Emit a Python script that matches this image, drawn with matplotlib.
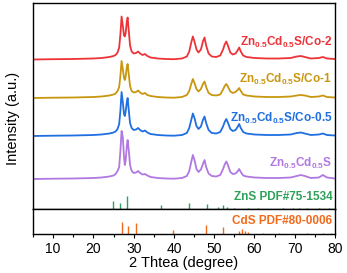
import matplotlib.pyplot as plt
import numpy as np

plt.rcParams['font.family'] = ['Liberation Sans', 'DejaVu Sans']
plt.rcParams['mathtext.fontset'] = 'custom'
plt.rcParams['mathtext.rm'] = 'Liberation Sans:bold'
plt.rcParams['mathtext.bf'] = 'Liberation Sans:bold'

# 2theta sampling points
tt = [5, 10, 15, 20, 22, 24, 25, 25.5, 26, 26.4, 26.7, 27.0, 27.3, 27.6, 27.8, 28.0, 28.3, 28.5,
      28.8, 29.1, 29.5, 30.0, 30.6, 31.1, 31.6, 32.2, 32.8, 33.4, 34.2, 36, 38, 40, 42, 43.2, 43.8,
      44.3, 44.7, 45.1, 45.6, 46.1, 46.7, 47.2, 47.6, 48.0, 48.6, 49.4, 50.5, 51.5, 52.2, 52.6,
      53.0, 53.4, 54.0, 54.6, 55.3, 55.8, 56.2, 56.6, 57.2, 58, 60, 63, 66, 69, 70.5, 71.5, 72.5,
      74, 76, 77, 78, 80]

co2 = [0, 0.3, 0.5, 1, 1.5, 2.5, 3.5, 4.5, 7, 12, 25, 43, 34, 24, 23, 26, 38, 42,
       28, 14, 8, 6, 6.5, 8, 6, 4.5, 5.5, 3.5, 2, 1, 0.5, 0.3, 1, 3, 8,
       17, 23, 18, 10, 7, 10, 18, 22, 14, 6, 3, 2.5, 4, 10, 15,
       18, 14, 7, 5, 6, 9, 12, 8, 4, 2.5, 1.5, 1, 1, 1.5, 3, 3.5, 2.5,
       1, 1.5, 2.5, 1, 0.5]
co1 = [0, 0.3, 0.5, 1, 1.5, 2.5, 3.5, 4.5, 7, 11, 22, 37, 29, 20, 18, 21, 31, 34,
       23, 12, 7, 5.5, 6, 7.5, 5.5, 4, 5, 3, 2, 1, 0.5, 0.3, 1, 3, 7,
       14, 19, 15, 9, 6.5, 9, 14, 16.5, 11, 5, 3, 2.5, 3.5, 8.5, 12,
       14, 11.5, 6.5, 5, 6, 8, 10, 7, 3.5, 2.5, 1.5, 1, 1, 1.5, 2.5, 3, 2.5,
       1, 1.5, 2.5, 1, 0.5]
co05 = [0, 0.3, 0.5, 1, 1.5, 2.5, 3.5, 4.5, 7, 12, 25, 44, 34, 22, 20, 24, 34, 38,
        25, 13, 8, 6, 6.5, 8, 6, 4.5, 5.5, 3.5, 2, 1, 0.5, 0.3, 1, 3, 8,
        16, 22.5, 18, 10, 7, 9.5, 16, 19.5, 13, 6, 3, 2.5, 4, 9.5, 14,
        17, 13.5, 7, 5, 6, 9, 12, 8, 4, 2.5, 1.5, 1, 1, 1.5, 3, 3.5, 2.5,
        1, 1.5, 2.5, 1, 0.5]
zcs = [0, 0.3, 0.5, 1, 1.5, 2.5, 3.5, 5, 8, 12, 28, 48, 42, 22, 14, 18, 33, 39,
       28, 14, 8, 6, 6.5, 8, 6, 4.5, 5, 3.5, 2, 1, 0.5, 0.3, 1, 3, 8,
       17, 24, 19, 10, 7, 9.5, 15, 19, 12, 5.5, 3, 2.5, 4, 10, 14.5,
       17.5, 14, 7, 5, 5.5, 7.5, 10, 7, 3.5, 2.5, 1.5, 1, 1, 1.5, 3, 4, 3,
       1, 1.5, 4, 1.5, 0.5]

curves = [zcs, co05, co1, co2]
offsets = [30, 73, 111, 149.5]
colors = ['#B078E0', '#1F6FE0', '#C8960F', '#EE3338']
names = ['Zn$_{0.5}$Cd$_{0.5}$S', 'Zn$_{0.5}$Cd$_{0.5}$S/Co-0.5',
         'Zn$_{0.5}$Cd$_{0.5}$S/Co-1', 'Zn$_{0.5}$Cd$_{0.5}$S/Co-2']
label_y = [46, 91, 130, 167]

# reference cards
zns_pos = [24.9, 26.6, 28.3, 36.8, 43.7, 48.1, 51.0, 52.1, 53.1, 55.0, 58.5, 61.0,
           67.0, 69.5, 71.0, 73.0, 76.0, 78.5]
zns_int = [64, 48, 100, 31, 44, 38, 18, 31, 13, 8, 8, 6, 8, 8, 8, 8, 8, 8]
cds_pos = [27.0, 28.7, 30.7, 39.8, 48.0, 52.1, 56.1, 56.8, 57.6, 58.4, 62.0, 66.0,
           73.0, 77.0, 79.0]
cds_int = [100, 67, 95, 35, 73, 59, 27, 40, 22, 14, 8, 8, 12, 10, 10]

fig = plt.figure(figsize=(3.47, 2.73), dpi=100)
ax = fig.add_axes([33/347, 1 - 209/273, 302/347, 206/273])
ax2 = fig.add_axes([33/347, 1 - 234/273, 302/347, 25/273], sharex=ax)

for y, off, c in zip(curves, offsets, colors):
    ax.plot(tt, np.array(y) + off, color=c, lw=1.3)

for name, ly, c in zip(names, label_y, colors):
    ax.text(79.3, ly, name, color=c, fontsize=8.5, fontweight='bold', ha='right', va='center')

ax.vlines(zns_pos, 0, np.array(zns_int) * 0.13, color='#2EA05A', lw=1)
ax.text(79.3, 12.5, 'ZnS PDF#75-1534', color='#2EA05A', fontsize=8.5, fontweight='bold',
        ha='right', va='center')
ax.set_ylim(0, 206)
ax.set_yticks([])
ax.tick_params(axis='x', which='both', bottom=False, labelbottom=False)

ax2.vlines(cds_pos, 0, np.array(cds_int) * 0.12, color='#F26A1B', lw=1)
ax2.text(79.3, 12.5, 'CdS PDF#80-0006', color='#F26A1B', fontsize=8.5, fontweight='bold',
         ha='right', va='center')
ax2.set_ylim(0, 25)
ax2.set_yticks([])
ax2.set_xlim(5, 80)
ax2.set_xticks(range(10, 81, 10))
ax2.set_xticks(range(5, 81, 5), minor=True)
ax2.tick_params(axis='x', which='major', length=3, width=0.8, labelsize=10, pad=2.5)
ax2.tick_params(axis='x', which='minor', length=2.5, width=0.8)
ax2.set_xlabel('2 Thtea (degree)', fontsize=10.5, labelpad=0)

fig.text(13/347, 1 - 118.5/273, 'Intensity (a.u.)', fontsize=10.5, rotation=90,
         ha='center', va='center')

for a in (ax, ax2):
    for s in a.spines.values():
        s.set_linewidth(1)

fig.savefig('out.png', dpi=100)
